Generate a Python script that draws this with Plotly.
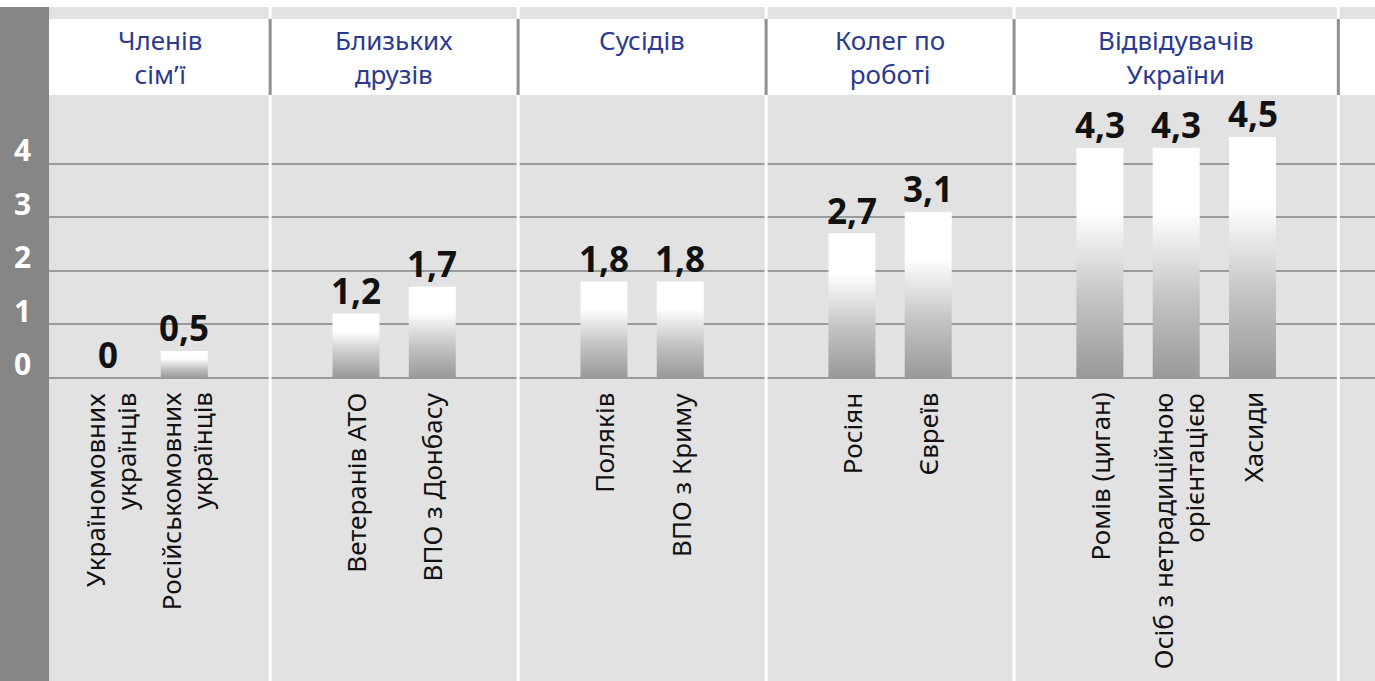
import plotly.graph_objects as go

# ---------------- data ----------------
group_titles = ["Членів<br>сім’ї", "Близьких<br>друзів", "Сусідів", "Колег по<br>роботі", "Відвідувачів<br>України"]
categories = [
    "Україномовних<br>українців",
    "Російськомовних<br>українців",
    "Ветеранів АТО",
    "ВПО з Донбасу",
    "Поляків",
    "ВПО з Криму",
    "Росіян",
    "Євреїв",
    "Ромів (циган)",
    "Осіб з нетрадиційною<br>орієнтацією",
    "Хасиди",
]
values = [0, 0.5, 1.2, 1.7, 1.8, 1.8, 2.7, 3.1, 4.3, 4.3, 4.5]
group_index = [0, 0, 1, 1, 2, 2, 3, 3, 4, 4, 4]
y_ticks = [0, 1, 2, 3, 4]

# ---------------- layout constants ----------------
W, H = 1375, 681
TOP = 7                 # white strip at top (px)
X0_PX, PX_PER_U = 108.0, 76.3
Y0_PX, PX_PER_Y = 377.7, 53.5
GAP = 1.25
BAR_W = 47 / PX_PER_U
STRIP_PX = 49
HEADER_TOP_PX, HEADER_BOT_PX = 19, 95

BG = "#e2e2e2"
GRID = "#9a9a9a"
STRIP = "#868686"
BLUE = "#2b3a8f"
FONT = "Noto Sans"

def u_of_px(px):
    return (px - X0_PX) / PX_PER_U

def y_of_px(py):
    return (Y0_PX - py) / PX_PER_Y

x_range = [u_of_px(0), u_of_px(W)]
y_range = [y_of_px(H), y_of_px(TOP)]

positions = [i + GAP * g for i, g in enumerate(group_index)]

# group boundaries
n_groups = len(group_titles)
g_left, g_right = [], []
for g in range(n_groups):
    ps = [p for p, gi in zip(positions, group_index) if gi == g]
    g_left.append(min(ps) - 0.5 - GAP / 2)
    g_right.append(max(ps) + 0.5 + GAP / 2)

CS = [[0, "#999999"], [0.35, "#c4c4c4"], [0.6, "#ececec"], [0.72, "#ffffff"], [1, "#ffffff"]]

fig = go.Figure()
for p, v, name in zip(positions, values, categories):
    l, r = p - BAR_W / 2, p + BAR_W / 2
    fig.add_trace(go.Scatter(
        x=[l, r, r, l, l], y=[0, 0, v, v, 0],
        mode="none", fill="toself",
        fillgradient=dict(type="vertical", colorscale=CS, start=0, stop=max(v, 1e-6)),
        name=name.replace("<br>", " "), showlegend=False, hoverinfo="skip",
    ))

shapes = []
# white separators (full height)
for g in range(n_groups):
    shapes.append(dict(type="line", xref="x", yref="y", x0=g_right[g], x1=g_right[g],
                       y0=y_range[0], y1=y_range[1], line=dict(color="white", width=3), layer="between"))
# header white band
shapes.append(dict(type="rect", xref="paper", yref="y", x0=STRIP_PX / W, x1=1,
                   y0=y_of_px(HEADER_BOT_PX), y1=y_of_px(HEADER_TOP_PX),
                   fillcolor="white", line=dict(width=0), layer="between"))
# gray separators in header
for g in range(n_groups):
    shapes.append(dict(type="line", xref="x", yref="y", x0=g_right[g], x1=g_right[g],
                       y0=y_of_px(HEADER_BOT_PX), y1=y_of_px(HEADER_TOP_PX),
                       line=dict(color="#8f8f8f", width=3), layer="between"))
# left dark strip
shapes.append(dict(type="rect", xref="paper", yref="paper", x0=0, x1=STRIP_PX / W, y0=0, y1=1,
                   fillcolor=STRIP, line=dict(width=0), layer="above"))

annotations = []
# y tick labels on strip
for t in y_ticks:
    annotations.append(dict(xref="paper", yref="y", x=22 / W, y=t, yshift=14,
                            text=f"<b>{t}</b>", showarrow=False, xanchor="center", yanchor="middle",
                            font=dict(family=FONT, size=30, color="white")))
# value labels
for p, v in zip(positions, values):
    annotations.append(dict(xref="x", yref="y", x=p, y=v, yshift=23,
                            text=f"<b>{v:g}</b>".replace(".", ","), showarrow=False,
                            xanchor="center", yanchor="middle",
                            font=dict(family=FONT, size=35, color="#111111")))
# category labels (rotated, one annotation per line, ends aligned at top)
CAT_PITCH = 31.5
for p, name in zip(positions, categories):
    lines = name.split("<br>")
    n = len(lines)
    for k, line in enumerate(lines):
        annotations.append(dict(xref="x", yref="y", x=p, y=0, yshift=-13,
                                xshift=(k - (n - 1) / 2) * CAT_PITCH + (2 if n > 1 else 0),
                                text=line, showarrow=False, textangle=-90,
                                xanchor="center", yanchor="top",
                                font=dict(family=FONT, size=26, color="#111111")))
# group titles
TITLE_SIZE = 26
strip_u = u_of_px(STRIP_PX)
for g, title in enumerate(group_titles):
    cx = (max(g_left[g], strip_u) + g_right[g]) / 2
    annotations.append(dict(xref="x", yref="y", x=cx, y=y_of_px(20),
                            text=title, showarrow=False, xanchor="center", yanchor="top",
                            font=dict(family=FONT, size=TITLE_SIZE, color=BLUE)))

fig.update_layout(
    width=W, height=H,
    margin=dict(l=0, r=0, t=TOP, b=0),
    paper_bgcolor="white", plot_bgcolor=BG,
    xaxis=dict(range=x_range, showgrid=False, zeroline=False, showticklabels=False, fixedrange=True),
    yaxis=dict(range=y_range, tickvals=y_ticks, showgrid=True, gridcolor=GRID, gridwidth=2,
               zeroline=False, showticklabels=False, fixedrange=True),
    shapes=shapes, annotations=annotations,
    showlegend=False,
)

fig.write_html(
    "out.html",
    config={"displayModeBar": False},
    post_script="document.body.style.margin='0';document.body.style.overflow='hidden';",
)
